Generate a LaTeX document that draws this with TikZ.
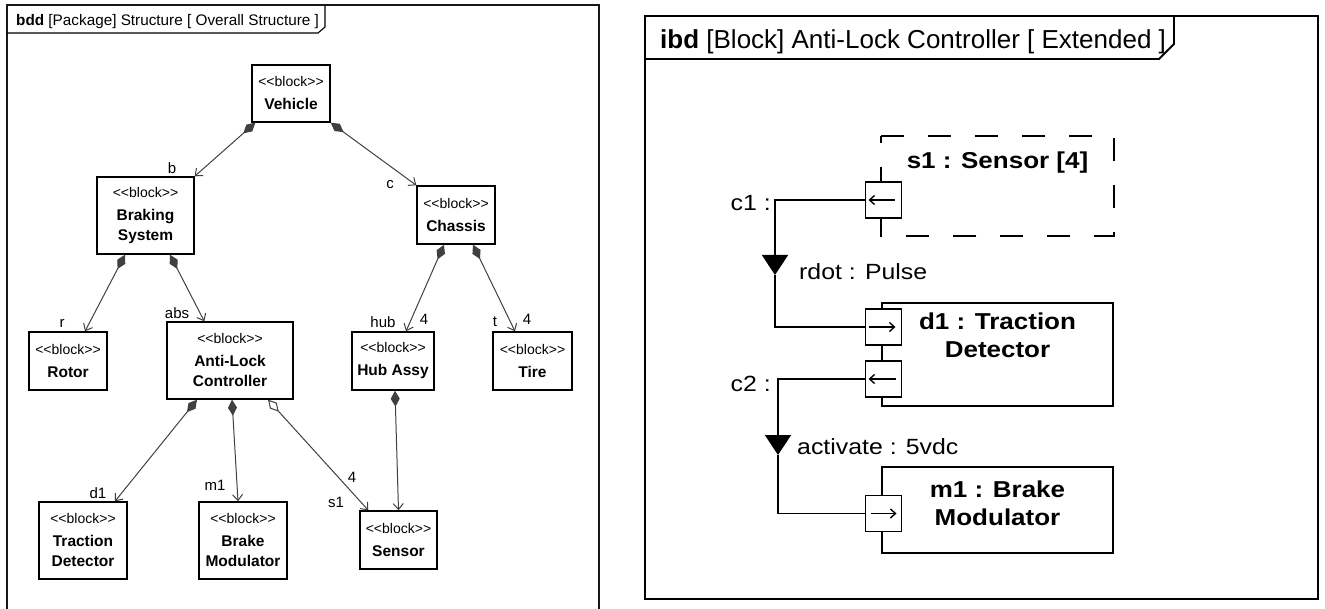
\documentclass[tikz,border=0pt]{standalone}
\usepackage{fontspec}
\setmainfont{Liberation Sans}
\newfontfamily\ibdfont{Liberation Sans}[FakeStretch=1.13]
\usetikzlibrary{arrows.meta,calc}
\newcommand\blkster{{\fontsize{14}{16}\selectfont\mdseries <{}<block>{}>}}
\begin{document}
\begin{tikzpicture}[x=1pt,y=-1pt,
  block/.style={draw=black, line width=1.4pt, fill=white, align=center, inner sep=0pt,
    font=\fontsize{15.5}{20}\selectfont\bfseries},
  comp/.style={draw=black!75, line width=1pt,
    {Diamond[length=16pt,width=9pt]}-{Straight Barb[length=6pt,width=10pt]}},
  agg/.style={draw=black!75, line width=1pt,
    {Diamond[open,length=16pt,width=9pt,fill=white]}-{Straight Barb[length=6pt,width=10pt]}},
  lbl/.style={inner sep=0pt, font=\fontsize{15}{17}\selectfont},
  partbox/.style={draw=black, line width=1.7pt, inner sep=0pt, minimum width=231pt},
  dashpart/.style={line width=1.7pt, dash pattern=on 23pt off 24pt},
  partlbl/.style={anchor=north, inner sep=0pt, align=center,
    font=\ibdfont\fontsize{23}{28}\selectfont\bfseries},
  port/.style={draw=black, line width=1.7pt, fill=white, minimum size=36pt, inner sep=0pt},
  parr/.style={line width=1.4pt, -{Straight Barb[length=5pt,width=9pt]}},
  conn/.style={line width=1.7pt, line join=miter},
  flow/.style={-{Triangle[length=20pt,width=26pt]}},
  ibdlbl/.style={inner sep=0pt, font=\ibdfont\fontsize{22}{26}\selectfont}
]
\useasboundingbox (0,0) rectangle (1325,609);
\clip (0,0) rectangle (1325,609);

% ---------------- left frame (bdd) ----------------
\draw[line width=1.5pt, draw=black!90] (7,5) rectangle (599,625);
\draw[line width=1.1pt] (7,33) -- (318,33) -- (325,27) -- (325,5);
\node[anchor=base west, inner sep=0pt, font=\fontsize{15.3}{18}\selectfont] (ttl1) at (16,26)
  {\textbf{bdd} [Package] Structure [ Overall Structure ]};

\node[block, minimum width=78pt, minimum height=57pt] (veh) at (291,93.5) {\blkster\\[3pt]Vehicle};
\node[block, minimum width=97pt, minimum height=77pt] (brk) at (145.5,215.5) {\blkster\\[3pt]Braking\\System};
\node[block, minimum width=78pt, minimum height=58pt] (cha) at (456,215) {\blkster\\[3pt]Chassis};
\node[block, minimum width=78pt, minimum height=58pt] (rot) at (68,361) {\blkster\\[3pt]Rotor};
\node[block, minimum width=126pt, minimum height=77pt] (alc) at (230,360.5) {\blkster\\[3pt]Anti-Lock\\Controller};
\node[block, minimum width=82pt, minimum height=58pt] (hub) at (393,361) {\blkster\\[3pt]Hub Assy};
\node[block, minimum width=79pt, minimum height=58pt] (tir) at (532.5,361) {\blkster\\[3pt]Tire};
\node[block, minimum width=88pt, minimum height=77pt] (trd) at (83,540.5) {\blkster\\[3pt]Traction\\Detector};
\node[block, minimum width=88pt, minimum height=77pt] (brm) at (243,540.5) {\blkster\\[3pt]Brake\\Modulator};
\node[block, minimum width=77pt, minimum height=58pt] (sen) at (398.5,540) {\blkster\\[3pt]Sensor};

\draw[comp] ([xshift=4pt]veh.south west) -- (brk.north east);
\draw[comp] (veh.south east) -- (cha.north west);
\draw[comp] ([xshift=-20.5pt]brk.south) -- ([xshift=17pt]rot.north);
\draw[comp] ([xshift=24.5pt]brk.south) -- ([xshift=38pt]alc.north west);
\draw[comp] ([xshift=-12pt]cha.south) -- ([xshift=13pt]hub.north);
\draw[comp] ([xshift=17pt]cha.south) -- ([xshift=-17.5pt]tir.north);
\draw[comp] ([xshift=2pt]hub.south) -- (sen.north);
\draw[comp] ([xshift=-33pt]alc.south) -- ([xshift=32pt]trd.north);
\draw[comp] ([xshift=2pt]alc.south) -- ([xshift=-5pt]brm.north);
\draw[agg] ([xshift=38pt]alc.south) -- ([xshift=9pt]sen.north west);

\node[lbl] (lb) at (172,168) {b};
\node[lbl] (lc) at (390,185) {c};
\node[lbl] (lr) at (62,323) {r};
\node[lbl] (labs) at (177,313) {abs};
\node[lbl] (lhub) at (383,322) {hub};
\node[lbl] (lhub4) at (424,319) {4};
\node[lbl] (lt) at (495,322) {t};
\node[lbl] (lt4) at (527,319) {4};
\node[lbl] (ld1) at (98,493) {d1};
\node[lbl] (lm1) at (215,485) {m1};
\node[lbl] (ls4) at (352,477) {4};
\node[lbl] (ls1) at (336,502) {s1};

% ---------------- right frame (ibd) ----------------
\draw[line width=1.8pt] (645,16) rectangle (1318,599);
\draw[line width=1.8pt] (645,59) -- (1159,59) -- (1174,44) -- (1174,16);
\node[anchor=base west, inner sep=0pt, font=\fontsize{26}{30}\selectfont] (ttl2) at (660,49)
  {\textbf{ibd} [Block] Anti-Lock Controller [ Extended ]};

\node[partbox, draw=none, minimum height=98pt,
  label={[partlbl, name=s1l, yshift=-15pt]north:{s1 : Sensor [4]}}] (s1) at (997.5,186) {};
\draw[dashpart] (s1.north west) -- (s1.north east) -- (s1.south east) -- (s1.south west) -- cycle;
\node[partbox, minimum height=103pt,
  label={[partlbl, name=d1l, yshift=-10pt]north:{d1 : Traction\\Detector}}] (d1) at (997.5,354.5) {};
\node[partbox, minimum height=86pt,
  label={[partlbl, name=m1l, yshift=-14pt]north:{m1 : Brake\\Modulator}}] (m1) at (997.5,510) {};

\node[port] (p1) at (883.5,200) {};
\node[port] (p2) at (883.5,327) {};
\node[port] (p3) at (883.5,379) {};
\node[port] (p4) at (883.5,513.5) {};

\draw[parr] ([xshift=11pt]p1.center) -- ([xshift=-15pt]p1.center);
\draw[parr] ([xshift=-15pt]p2.center) -- ([xshift=12pt]p2.center);
\draw[parr] ([xshift=12pt]p3.center) -- ([xshift=-15pt]p3.center);
\draw[parr] ([xshift=-13pt]p4.center) -- ([xshift=13pt]p4.center);

\coordinate (c1t) at (775,275);
\coordinate (c2t) at (778,455);
\draw[conn, flow] (p1.west) -| (c1t);
\draw[conn] (c1t) |- (p2.west);
\draw[conn, flow] (p3.west) -| (c2t);
\draw[conn] (c2t) |- (p4.west);

\node[ibdlbl, anchor=east] (c1l) at (771,203) {c1 :};
\node[ibdlbl, anchor=west] (rdl) at (799,272) {rdot : Pulse};
\node[ibdlbl, anchor=east] (c2l) at (771,384) {c2 :};
\node[ibdlbl, anchor=west] (acl) at (797,447) {activate : 5vdc};
\end{tikzpicture}
\end{document}
